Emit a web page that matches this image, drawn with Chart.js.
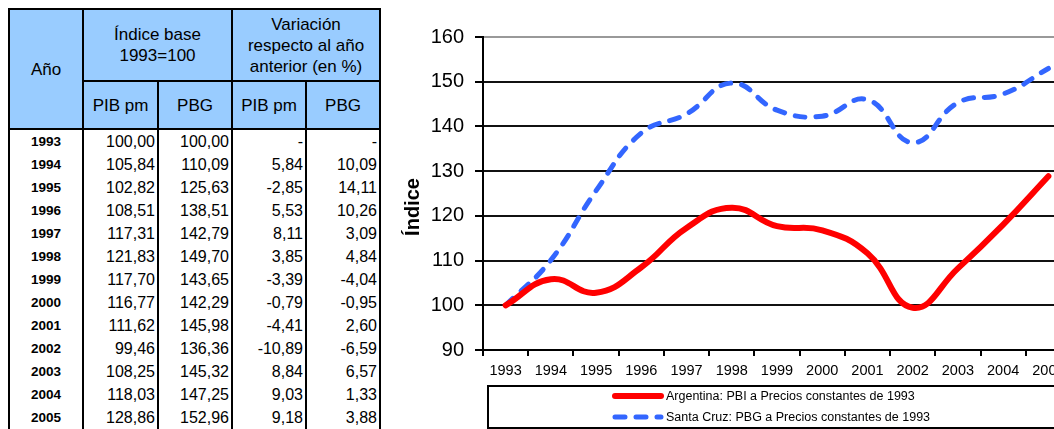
<!DOCTYPE html>
<html>
<head>
<meta charset="utf-8">
<script src="https://cdn.jsdelivr.net/npm/chart.js@4"></script>
<style>
	html, body { margin: 0; padding: 0; background: #fff; width: 1054px; height: 429px; overflow: hidden; position: relative; }
	body { font-family: "Liberation Sans", Arial, sans-serif; }
	#tabla { position: absolute; left: 8px; top: 8px; border-collapse: collapse; border: 2px solid #000; }
	#tabla th { background: #99ccff; font-weight: normal; font-size: 17px; border: 2px solid #000; padding: 0; line-height: 21px; }
	#tabla td { font-size: 16px; height: 23px; padding: 0 2px 0 0; text-align: right; border-left: 2px solid #000; border-right: 2px solid #000; line-height: 23px; }
	#tabla td.anio { text-align: center; font-weight: bold; font-size: 13.5px; padding: 0; }
	#grafico { position: absolute; left: 400px; top: 0; }
</style>
</head>
<body>
<table id="tabla">
	<thead>
		<tr style="height:72px">
			<th rowspan="2" style="width:72px">Año</th>
			<th colspan="2">Índice base<br>1993=100</th>
			<th colspan="2">Variación<br>respecto al año<br>anterior (en %)</th>
		</tr>
		<tr style="height:48px">
			<th style="width:73px">PIB pm</th>
			<th style="width:72px">PBG</th>
			<th style="width:72px">PIB pm</th>
			<th style="width:72px">PBG</th>
		</tr>
	</thead>
	<tbody id="filas"></tbody>
</table>
<canvas id="grafico" width="680" height="429"></canvas>
<script>
	'use strict';

	var anios = ['1993', '1994', '1995', '1996', '1997', '1998', '1999', '2000', '2001', '2002', '2003', '2004', '2005'];
	var pibIndice = [100.00, 105.84, 102.82, 108.51, 117.31, 121.83, 117.70, 116.77, 111.62, 99.46, 108.25, 118.03, 128.86];
	var pbgIndice = [100.00, 110.09, 125.63, 138.51, 142.79, 149.70, 143.65, 142.29, 145.98, 136.36, 145.32, 147.25, 152.96];
	var pibVariacion = [null, 5.84, -2.85, 5.53, 8.11, 3.85, -3.39, -0.79, -4.41, -10.89, 8.84, 9.03, 9.18];
	var pbgVariacion = [null, 10.09, 14.11, 10.26, 3.09, 4.84, -4.04, -0.95, 2.60, -6.59, 6.57, 1.33, 3.88];
	var yTicks = [90, 100, 110, 120, 130, 140, 150, 160];

	var etiquetaArg = 'Argentina: PBI a Precios constantes de 1993';
	var etiquetaSc = 'Santa Cruz: PBG a Precios constantes de 1993';
	var tituloY = 'Índice';

	function fmt(v) {
		return v === null ? '-' : v.toFixed(2).replace('.', ',');
	}

	// Table rows
	var filas = document.getElementById('filas');
	anios.forEach(function(a, i) {
		var tr = document.createElement('tr');
		tr.innerHTML = '<td class="anio">' + a + '</td>' +
			'<td>' + fmt(pibIndice[i]) + '</td>' +
			'<td>' + fmt(pbgIndice[i]) + '</td>' +
			'<td>' + fmt(pibVariacion[i]) + '</td>' +
			'<td>' + fmt(pbgVariacion[i]) + '</td>';
		filas.appendChild(tr);
	});

	// Boxed legend below the axis + rotated y title
	var leyendaCaja = {
		id: 'leyendaCaja',
		afterDraw: function(chart) {
			var ctx = chart.ctx;
			var area = chart.chartArea;
			var left = area.left + 5;
			var top = 386;
			ctx.save();

			// y title
			ctx.save();
			ctx.translate(area.left - 70, area.top + 170);
			ctx.rotate(-Math.PI / 2);
			ctx.fillStyle = '#000';
			ctx.font = 'bold 20px "Liberation Sans", Arial, sans-serif';
			ctx.textAlign = 'center';
			ctx.textBaseline = 'middle';
			ctx.fillText(tituloY, 0, 0);
			ctx.restore();

			ctx.strokeStyle = '#000';
			ctx.lineWidth = 2;
			ctx.strokeRect(left, top, chart.width, 42);

			var sx = left + 125;
			chart.data.datasets.forEach(function(ds, i) {
				var y = top + 10 + i * 21;
				ctx.beginPath();
				ctx.lineWidth = ds.borderWidth;
				ctx.strokeStyle = ds.borderColor;
				ctx.lineCap = ds.borderCapStyle || 'butt';
				ctx.setLineDash(ds.borderDash || []);
				ctx.moveTo(sx + 2, y);
				ctx.lineTo(sx + 48, y);
				ctx.stroke();
				ctx.setLineDash([]);
				ctx.fillStyle = '#000';
				ctx.font = '12.5px "Liberation Sans", Arial, sans-serif';
				ctx.textBaseline = 'middle';
				ctx.fillText(ds.label, sx + 53, y + 1, i === 0 ? 252 : 272);
			});
			ctx.restore();
		}
	};

	new Chart(document.getElementById('grafico'), {
		type: 'line',
		data: {
			labels: anios,
			datasets: [{
				label: etiquetaArg,
				data: pibIndice,
				borderColor: '#ff0000',
				borderWidth: 6,
				borderCapStyle: 'round',
				tension: 0.45,
				pointRadius: 0,
				fill: false
			}, {
				label: etiquetaSc,
				data: pbgIndice,
				borderColor: '#3366ff',
				borderWidth: 5,
				borderDash: [10, 11],
				borderCapStyle: 'round',
				tension: 0.45,
				pointRadius: 0,
				fill: false
			}]
		},
		options: {
			responsive: false,
			animation: false,
			layout: {
				padding: { top: 37, right: 9, bottom: 49, left: 0 }
			},
			plugins: {
				legend: { display: false },
				tooltip: { enabled: false }
			},
			scales: {
				x: {
					offset: true,
					afterFit: function(scale) { scale.height = 30; },
					border: { display: true, color: '#000', width: 2 },
					grid: {
						offset: true,
						drawOnChartArea: false,
						drawTicks: true,
						tickLength: 6,
						color: '#000',
						lineWidth: 2
					},
					ticks: {
						color: '#000',
						font: { family: '"Liberation Sans", Arial, sans-serif', size: 14.5 },
						maxRotation: 0,
						autoSkip: false,
						padding: 6
					}
				},
				y: {
					min: 90,
					max: 160,
					afterFit: function(scale) { scale.width = 83; },
					afterBuildTicks: function(scale) {
						scale.ticks = yTicks.map(function(v) { return { value: v }; });
					},
					border: { display: true, color: '#000', width: 2 },
					grid: {
						color: function(c) { return c.tick && c.tick.value === 160 ? '#999' : '#111'; },
						lineWidth: 2,
						borderDash: [3, 1],
						drawTicks: true,
						tickLength: 8,
						tickColor: '#000',
						tickBorderDash: []
					},
					ticks: {
						color: '#000',
						font: { family: '"Liberation Sans", Arial, sans-serif', size: 20 },
						padding: 11
					}
				}
			}
		},
		plugins: [leyendaCaja]
	});
</script>
</body>
</html>
